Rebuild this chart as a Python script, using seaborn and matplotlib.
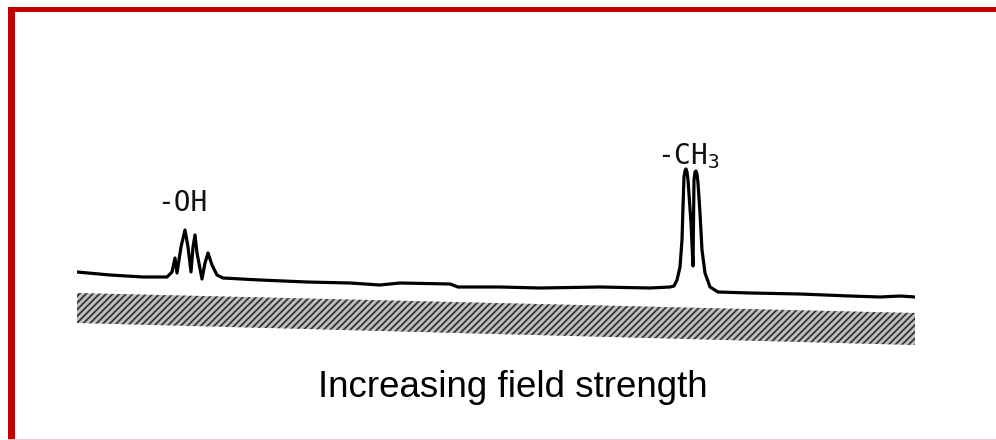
import numpy as np
import seaborn as sns
import matplotlib.pyplot as plt
from matplotlib.patches import Rectangle

# Spectrum trace (field position, arbitrary units; signal intensity)
field_pos = [0, 33, 66, 90, 95, 98, 100, 104, 108, 111, 114, 116, 118, 120, 125,
             128, 131, 135, 140, 146, 183, 230, 273, 303, 323, 373, 381, 423, 463,
             523, 573, 593, 597, 600, 603, 605, 606, 607, 608, 609, 610, 611, 614,
             616, 616.5, 617, 618, 619, 620, 621, 623, 625, 628, 633, 641,
             673, 723, 773, 803, 823, 838]
intensity = [28, 25, 23, 23, 28, 42, 27, 53, 70, 53, 28, 53, 65, 47, 21,
             37, 47, 35, 25, 22, 20, 18, 17, 15, 17, 16, 13, 13, 12,
             13, 12, 13, 14, 20, 33, 60, 93, 123, 129, 131, 128, 120, 77,
             34, 77, 120, 128, 129, 126, 117, 87, 50, 27, 13, 8,
             7, 6, 4, 3, 4, 3]

peak_labels = ['-OH', '-CH$_3$']
peak_label_pos = [105, 611]
peak_label_height = [97, 144]

ramp_x = [0, 838]
ramp_top = [7, -13]
ramp_bottom = [-23, -45]

caption = 'Increasing field strength'

sns.set_style('white')
plt.rcParams['mathtext.fontset'] = 'custom'
plt.rcParams['mathtext.rm'] = 'DejaVu Sans Mono'
plt.rcParams['hatch.linewidth'] = 1.3

fig = plt.figure(figsize=(9.96, 4.4), dpi=100)
ax = fig.add_axes([77 / 996, 90 / 440, 838 / 996, 200 / 440])

sns.lineplot(x=field_pos, y=intensity, color='black', linewidth=2.3, ax=ax)
ax.lines[0].set_solid_joinstyle('round')

# shaded ramp under the trace
ax.fill_between(ramp_x, ramp_top, ramp_bottom, facecolor='#c0c0c0',
                edgecolor='#333333', hatch='/////', linewidth=0)

for lab, xp, yp in zip(peak_labels, peak_label_pos, peak_label_height):
    ax.text(xp, yp, lab, ha='center', va='center', fontsize=20,
            family='DejaVu Sans Mono', color='#111111')

ax.set_xlim(0, 838)
ax.set_ylim(-50, 150)
ax.axis('off')

fig.text(513 / 996, 43 / 440, caption, ha='center', va='baseline',
         fontsize=26.5, family='Liberation Sans', color='black')

# red frame
red = '#c20000'
fig.add_artist(Rectangle((8 / 996, 427.5 / 440), 988 / 996, 5.5 / 440,
                         transform=fig.transFigure, color=red, lw=0))
fig.add_artist(Rectangle((8 / 996, 0), 6.5 / 996, 433 / 440,
                         transform=fig.transFigure, color=red, lw=0))
fig.add_artist(Rectangle((8 / 996, 0), 988 / 996, 1.5 / 440,
                         transform=fig.transFigure, color='#f2c6c6', lw=0))

fig.savefig('out.png', dpi=100)
